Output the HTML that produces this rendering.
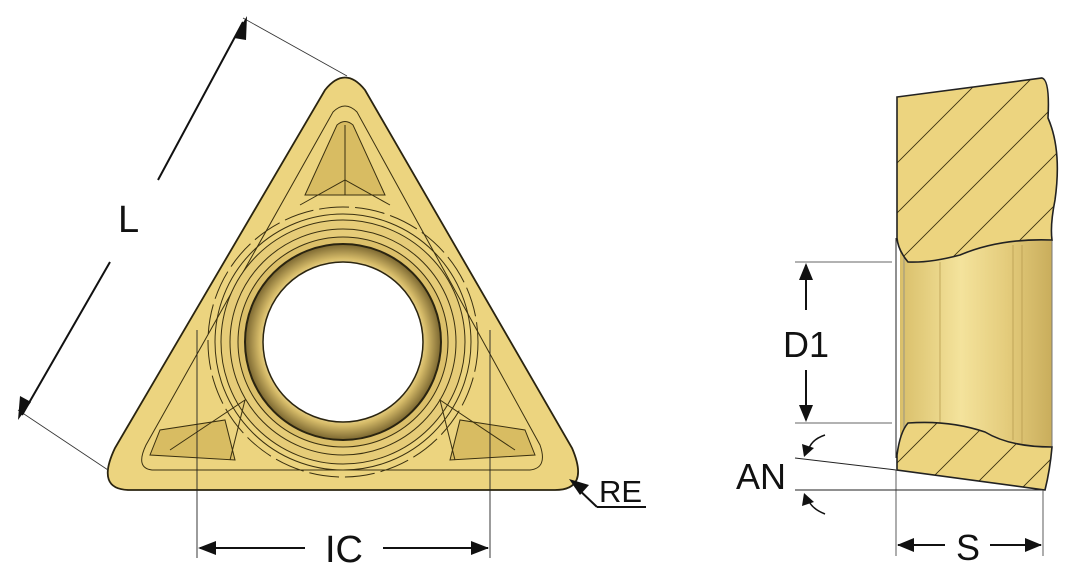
<!DOCTYPE html>
<html><head><style>
html,body{margin:0;padding:0;background:#fff;width:1069px;height:574px;overflow:hidden}
svg{display:block}
text{font-family:"Liberation Sans",sans-serif;fill:#111}
</style></head><body>
<svg width="1069" height="574" viewBox="0 0 1069 574" xmlns="http://www.w3.org/2000/svg">
<defs>
<radialGradient id="hole" cx="0.5" cy="0.5" r="0.5">
<stop offset="0.7" stop-color="#fff8d8"/><stop offset="0.85" stop-color="#d8bd6a"/><stop offset="1" stop-color="#7a6630"/>
</radialGradient>
<linearGradient id="bore" x1="0" x2="1" y1="0" y2="0">
<stop offset="0" stop-color="#d9bf6a"/><stop offset="0.4" stop-color="#f4e39c"/><stop offset="0.7" stop-color="#e4cc7c"/><stop offset="1" stop-color="#c9ad5c"/>
</linearGradient>
<clipPath id="secclip"><path d="M897,97 L1042,78 Q1050,80 1048,118 Q1062,150 1055,200 Q1050,225 1052,240 Q1000,238 960,255 Q930,263 908,262 Q898,250 897,238 Z M908,423 Q950,420 985,432 Q1010,447 1052,447 Q1050,470 1045,490 L897,470 L897,455 Q900,432 908,423 Z"/></clipPath>
</defs>
<!-- Triangle insert -->
<path d="M325,90 Q345,65 365,90 L572,448 Q590,490 555,490 L130,490 Q95,490 115,448 Z" fill="#ecd47f" stroke="#2a2410" stroke-width="1.8"/>
<path d="M333,112 Q345,100 357,112 L540,445 Q548,468 530,470 L152,470 Q135,468 146,445 Z" fill="none" stroke="#3a3010" stroke-width="1"/>
<path d="M337,125 Q345,118 353,125 L385,195 L305,195 Z" fill="#d8bc62" stroke="#3a3010" stroke-width="1"/>
<path d="M150,455 L160,430 L225,420 L235,460 Z" fill="#d8bc62" stroke="#3a3010" stroke-width="1"/>
<path d="M535,455 L525,430 L460,420 L450,460 Z" fill="#d8bc62" stroke="#3a3010" stroke-width="1"/>
<circle cx="343" cy="342" r="135" fill="none" stroke="#3a3010" stroke-width="1" stroke-dasharray="30 6"/>
<circle cx="343" cy="342" r="128" fill="none" stroke="#3a3010" stroke-width="1"/>
<circle cx="343" cy="342" r="122" fill="#e6cc78" stroke="#3a3010" stroke-width="1"/>
<circle cx="343" cy="342" r="113" fill="none" stroke="#3a3010" stroke-width="1"/>
<circle cx="343" cy="342" r="105" fill="#dcc06a" stroke="#3a3010" stroke-width="1"/>
<circle cx="343" cy="342" r="98" fill="url(#hole)" stroke="#2a2410" stroke-width="2"/>
<circle cx="343" cy="342" r="80" fill="#fff" stroke="#2a2410" stroke-width="1.5"/>
<path d="M345,125 L345,195 M300,205 L345,180 L390,205 M170,450 L245,400 L230,460 M515,450 L440,400 L455,460" fill="none" stroke="#3a3010" stroke-width="1"/>
<!-- L dimension -->
<line x1="243" y1="18" x2="347" y2="76" stroke="#333" stroke-width="0.8"/>
<line x1="18" y1="410" x2="108" y2="470" stroke="#333" stroke-width="0.8"/>
<line x1="243" y1="22" x2="158" y2="180" stroke="#111" stroke-width="2"/>
<line x1="110" y1="262" x2="22" y2="415" stroke="#111" stroke-width="2"/>
<polygon points="247,16 234,38 246,40" fill="#111"/>
<polygon points="18,420 20,396 31,402" fill="#111"/>
<text x="118" y="232" font-size="38">L</text>
<!-- IC dimension -->
<line x1="197" y1="330" x2="197" y2="558" stroke="#222" stroke-width="0.9"/>
<line x1="490" y1="330" x2="490" y2="558" stroke="#222" stroke-width="0.9"/>
<line x1="200" y1="548" x2="305" y2="548" stroke="#111" stroke-width="2"/>
<line x1="383" y1="548" x2="488" y2="548" stroke="#111" stroke-width="2"/>
<polygon points="198,548 216,541 216,555" fill="#111"/>
<polygon points="489,548 471,541 471,555" fill="#111"/>
<text x="344" y="562" font-size="38" text-anchor="middle">IC</text>
<!-- RE -->
<line x1="597" y1="507" x2="575" y2="486" stroke="#111" stroke-width="2"/>
<line x1="597" y1="507" x2="646" y2="507" stroke="#111" stroke-width="2"/>
<polygon points="569,479 589,485 580,495" fill="#111"/>
<text x="599" y="502" font-size="31">RE</text>
<!-- Section view -->
<rect x="900" y="236" width="152" height="214" fill="url(#bore)"/>
<line x1="940" y1="262" x2="940" y2="423" stroke="#b89c50" stroke-width="0.8"/>
<line x1="1013" y1="245" x2="1013" y2="440" stroke="#b89c50" stroke-width="0.8"/>
<line x1="1022" y1="245" x2="1022" y2="445" stroke="#b89c50" stroke-width="0.8"/>
<line x1="904" y1="245" x2="904" y2="440" stroke="#888" stroke-width="0.8"/>
<path d="M1052,240 L1052,447" stroke="#777" stroke-width="1" fill="none"/>
<g clip-path="url(#secclip)">
<rect x="890" y="70" width="180" height="430" fill="#ecd47f"/>
<g stroke="#3a3010" stroke-width="0.9">
<line x1="840" y1="220" x2="1000" y2="60"/><line x1="840" y1="270" x2="1060" y2="50"/>
<line x1="840" y1="320" x2="1080" y2="80"/><line x1="840" y1="370" x2="1080" y2="130"/>
<line x1="840" y1="420" x2="1080" y2="180"/><line x1="840" y1="470" x2="1080" y2="230"/>
<line x1="840" y1="520" x2="1080" y2="280"/><line x1="880" y1="530" x2="1080" y2="330"/>
<line x1="930" y1="530" x2="1080" y2="380"/><line x1="980" y1="530" x2="1080" y2="430"/>
</g>
</g>
<path d="M897,97 L1042,78 Q1050,80 1048,118 Q1062,150 1055,200 Q1050,225 1052,240 Q1000,238 960,255 Q930,263 908,262 Q898,250 897,238 Z M908,423 Q950,420 985,432 Q1010,447 1052,447 Q1050,470 1045,490 L897,470 L897,455 Q900,432 908,423 Z" fill="none" stroke="#222" stroke-width="1.6"/>
<line x1="896" y1="238" x2="896" y2="458" stroke="#222" stroke-width="1"/>
<!-- D1 -->
<line x1="795" y1="262" x2="892" y2="262" stroke="#333" stroke-width="0.8"/>
<line x1="795" y1="423" x2="892" y2="423" stroke="#333" stroke-width="0.8"/>
<line x1="806" y1="265" x2="806" y2="310" stroke="#111" stroke-width="2"/>
<line x1="806" y1="370" x2="806" y2="420" stroke="#111" stroke-width="2"/>
<polygon points="806,263 799,280 813,280" fill="#111"/>
<polygon points="806,422 799,405 813,405" fill="#111"/>
<text x="806" y="357" font-size="36" text-anchor="middle">D1</text>
<!-- AN -->
<line x1="795" y1="458" x2="896" y2="470" stroke="#222" stroke-width="1"/>
<line x1="795" y1="490" x2="1043" y2="490" stroke="#222" stroke-width="1"/>
<path d="M825,435 Q810,440 808,452" fill="none" stroke="#111" stroke-width="1.5"/>
<polygon points="804,457 802,444 814,448" fill="#111"/>
<path d="M825,514 Q810,508 808,498" fill="none" stroke="#111" stroke-width="1.5"/>
<polygon points="804,493 802,506 814,502" fill="#111"/>
<text x="736" y="489" font-size="36">AN</text>
<!-- S -->
<line x1="896" y1="470" x2="896" y2="556" stroke="#333" stroke-width="0.8"/>
<line x1="1043" y1="490" x2="1043" y2="556" stroke="#333" stroke-width="0.8"/>
<line x1="898" y1="545" x2="945" y2="545" stroke="#111" stroke-width="2"/>
<line x1="990" y1="545" x2="1041" y2="545" stroke="#111" stroke-width="2"/>
<polygon points="897,545 914,538 914,552" fill="#111"/>
<polygon points="1042,545 1025,538 1025,552" fill="#111"/>
<text x="968" y="560" font-size="36" text-anchor="middle">S</text>
</svg>
</body></html>
